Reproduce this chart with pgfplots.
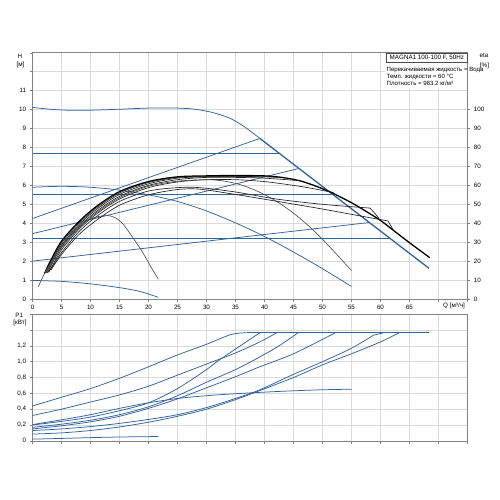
\documentclass[border=0pt]{standalone}
\usepackage{fontspec}
\setmainfont{Liberation Sans}
\usepackage{pgfplots}
\pgfplotsset{compat=1.18}
\definecolor{gblue}{RGB}{48,98,158}
\definecolor{gridc}{RGB}{218,218,218}
\definecolor{axc}{RGB}{130,130,130}
\newcommand{\fs}{\fontsize{6.3}{7.3}\selectfont}
\newcommand{\fss}{\fontsize{6.1}{7}\selectfont}
\pgfplotsset{
 base/.style={scale only axis, width=435bp, xmin=0, xmax=75, anchor=south west,
   tick label style={font=\fs}, /pgf/number format/assume math mode=true,
   tick align=outside, major tick length=2.8bp, tick style={axc, line width=0.5bp},
   axis line style={axc, line width=0.6bp}, grid=major,
   major grid style={gridc, line width=0.6bp}, tick pos=left},
 bl/.style={gblue, line width=0.75bp, no marks},
 bk/.style={black!88, line width=0.65bp, no marks, smooth},
}
\begin{document}
\begin{tikzpicture}
\path[use as bounding box] (0,0) rectangle (500bp,500bp);
% ---------------- top: H ----------------
\begin{axis}[base, at={(32.5bp,201bp)}, height=246.2bp, ymin=0, ymax=13,
 xtick={0,5,...,75}, xticklabels={0,5,10,15,20,25,30,35,40,45,50,55,60,65,{},{}},
 ytick={0,1,...,13}, yticklabels={0,1,2,3,4,5,6,7,8,9,10,11,{},{}}]
\addplot[bl, smooth] coordinates {(0,10.12)(3,10.02)(6,9.97)(10,9.97)(15,10.02)(20,10.08)(25,10.08)(28,10.02)(31,9.85)(34,9.55)(36.5,9.1)(39.2,8.48)};
\addplot[bl, line width=1.3bp] coordinates {(39.2,8.48)(68.36,1.62)};
\addplot[bl] coordinates {(0,7.7)(42.5,7.7)};
\addplot[bl] coordinates {(0,5.5)(51.9,5.5)};
\addplot[bl] coordinates {(0,3.2)(61.6,3.2)};
\addplot[bl] coordinates {(0,4.25)(39.2,8.48)};
\addplot[bl] coordinates {(0,3.45)(45.9,6.89)};
\addplot[bl] coordinates {(0,2.0)(58.1,4.04)};
\addplot[bl, smooth] coordinates {(0,5.9)(5,5.95)(10,5.9)(15,5.75)(20,5.5)(25,5.15)(30,4.65)(35,4.02)(40,3.3)(45,2.48)(50,1.6)(55,0.66)};
\addplot[bl, smooth] coordinates {(0,0.98)(5,0.93)(10,0.8)(15,0.6)(18.5,0.4)(21.7,0.09)};
\end{axis}
% ---------------- top: eta ----------------
\begin{axis}[base, at={(32.5bp,201bp)}, height=246.2bp, ymin=0, ymax=130,
 axis y line*=right, axis x line=none, grid=none, ytick={0,10,...,100}, ytick pos=right]
\addplot[bk, line width=1.3bp, black] coordinates {(2.1,13.6)(3,19.5)(5,30.5)(8,40.8)(11,48.8)(15,56.7)(20,62)(25,64.5)(30,65)(35,65.2)(40,65)(43,64.2)(46,62.5)(48.5,60)(51.2,56.7)(53,54)(55.2,50.5)(57.5,46.3)(59.9,41.7)(62,36.8)(64.4,31.1)(66.5,26.3)(68.5,21.8)};
\addplot[bk] coordinates {(2.2,13.8)(3,18.5)(5,29.5)(8,40)(11,48)(15,56)(20,61.5)(25,64.2)(30,64.8)(35,64.8)(40,64.5)(42.5,64.2)};
\addplot[bk] coordinates {(2.3,13.6)(3,17.5)(5,28.5)(8,39.2)(11,47.2)(15,55.2)(20,60.8)(25,63.8)(30,64.5)(35,64.6)(39.2,64.5)};
\addplot[bk] coordinates {(2.5,13.8)(3,16.5)(5,27.5)(8,38.2)(11,46.2)(15,54.2)(20,60)(25,63)(30,64.2)(35,64.2)(40,63.8)(45.9,62.5)};
\addplot[bk] coordinates {(2.6,13.8)(3.5,18)(5,26)(8,36.8)(11,44.8)(15,52.8)(20,58.8)(25,61.8)(30,63)(35,63)(40,62)(45,60)(48,58.5)(51.9,56.2)};
\addplot[bk, black!70] coordinates {(2.4,14)(3,17)(5,27)(8,37.5)(11,45.5)(15,53.5)(20,59.5)(25,62.2)(30,63)(33,62.3)(36,60.2)(39,56.6)(42,51.7)(45,45.3)(48,37.5)(51,28.3)(55,15)};
\addplot[bk] coordinates {(2.8,14.2)(3.5,17.5)(5,24.5)(8,35.5)(11,43.5)(15,51.5)(20,57)(25,58.8)(28.8,58.8)(35,56.5)(42,52.8)(50,50)(58.2,48)};
\addplot[black!88, line width=0.65bp] coordinates {(58.2,48)(59.8,42.5)};
\addplot[bk] coordinates {(3.2,15.3)(5,23.5)(8,34)(11,41.5)(15,49.5)(20,55)(25,57.8)(28.8,58)(35,55.2)(42.5,51.4)(50,47.5)(55,44.7)(61.3,41.2)};
\addplot[black!88, line width=0.65bp] coordinates {(61.3,41.2)(62.2,36.5)};
\addplot[bk, black!70] coordinates {(1.0,6.5)(2,13)(3.5,21)(5,28)(6.5,34)(8,38.5)(9.5,41.5)(11,43.3)(12.5,44)(13.5,43.8)(14.5,42.5)(15.5,40)(16.6,35.5)(17.5,31.5)(18.5,27)(19.5,22)(20.5,16.5)(21.7,10.5)};
\end{axis}
% ---------------- bottom: P1 ----------------
\begin{axis}[base, at={(32.5bp,59.2bp)}, height=126.6bp, ymin=0, ymax=1.6,
 xtick={0,5,...,75}, xticklabels={},
 ytick={0,0.2,0.4,0.6,0.8,1.0,1.2,1.4,1.6},
 yticklabels={0,{0,2},{0,4},{0,6},{0,8},{1,0},{1,2},{},{}}]
\addplot[bl, smooth] coordinates {(0,0.44)(5,0.55)(10,0.66)(15,0.79)(20,0.935)(25,1.085)(30,1.22)(34.3,1.345)(36.9,1.365)};
\addplot[bl] coordinates {(36.9,1.365)(68.4,1.365)};
\addplot[bl, smooth] coordinates {(0,0.32)(5,0.4)(10,0.49)(15,0.58)(20,0.69)(25,0.83)(31.8,1.02)(35,1.11)(39.2,1.25)(42.1,1.365)};
\addplot[bl, smooth] coordinates {(0,0.2)(5,0.245)(10,0.3)(15,0.38)(20,0.48)(25,0.66)(30,0.9)(31.8,1.0)(35,1.16)(39.2,1.365)};
\addplot[bl, smooth] coordinates {(0,0.205)(5,0.265)(10,0.33)(15,0.41)(20,0.48)(25,0.535)(30,0.57)(35,0.595)(40,0.615)(45,0.632)(50,0.645)(55,0.652)};
\addplot[bl, smooth] coordinates {(0,0.17)(5,0.21)(10,0.26)(15,0.33)(20,0.43)(25,0.57)(30,0.74)(35,0.9)(39.2,1.06)(42.5,1.2)(45.8,1.365)};
\addplot[bl, smooth] coordinates {(0,0.15)(5,0.19)(10,0.24)(15,0.31)(20,0.41)(25,0.53)(30,0.67)(35,0.81)(39.2,0.936)(45,1.1)(52.2,1.365)};
\addplot[bl, smooth] coordinates {(0,0.13)(5,0.15)(10,0.18)(15,0.22)(20,0.27)(25,0.33)(30,0.42)(35,0.535)(39.2,0.645)(45,0.84)(50,1.0)(55,1.17)(58.8,1.335)};
\addplot[bl] coordinates {(58.8,1.335)(60.5,1.365)};
\addplot[bl, smooth] coordinates {(0,0.085)(5,0.1)(10,0.13)(15,0.175)(20,0.235)(25,0.31)(30,0.4)(35,0.52)(39.2,0.635)(45,0.8)(50,0.96)(55,1.1)(60,1.25)(63.2,1.365)};
\addplot[bl, smooth] coordinates {(0,0.021)(5,0.03)(10,0.04)(15,0.048)(21.7,0.054)};
\end{axis}
% ---------------- texts ----------------
\node[font=\fs, inner sep=0] at (20bp,443.3bp) {H};
\node[font=\fs, inner sep=0] at (20.5bp,435bp) {[м]};
\node[font=\fs, inner sep=0] at (484bp,444.3bp) {eta};
\node[font=\fs, inner sep=0] at (484.5bp,434.5bp) {[\%]};
\node[font=\fs, inner sep=0] at (454bp,194.3bp) {Q [м³/ч]};
\node[font=\fs, inner sep=0] at (19.3bp,185bp) {P1};
\node[font=\fs, inner sep=0] at (20bp,177.3bp) {[кВт]};
\fill[white] (385bp,412bp) rectangle (467bp,437bp);
\node[draw=black!70, fill=white, line width=0.5bp, font=\fs, inner xsep=3.2bp, inner ysep=1.6bp,
 text height=4.7bp, text depth=1.3bp, anchor=north east] at (467.5bp,447.2bp) {MAGNA1 100-100 F, 50Hz};
\node[font=\fss, anchor=west, inner sep=0] at (386.5bp,430bp) {Перекачиваемая жидкость = Вода};
\node[font=\fss, anchor=west, inner sep=0] at (386.5bp,423.3bp) {Темп. жидкости = 60 °C};
\node[font=\fss, anchor=west, inner sep=0] at (386.5bp,416.4bp) {Плотность = 983.2 кг/м³};
\end{tikzpicture}
\end{document}
